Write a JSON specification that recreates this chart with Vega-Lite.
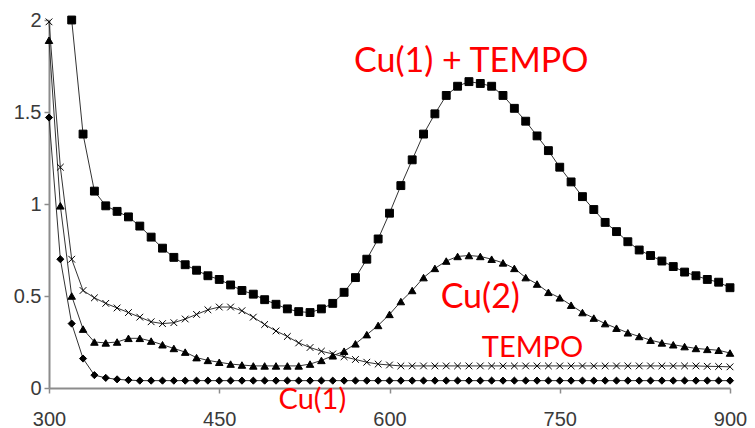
{
  "$schema": "https://vega.github.io/schema/vega-lite/v6.json",
  "autosize": {"type": "none"},
  "padding": {"left": 49, "top": 20, "right": 26, "bottom": 40},
  "width": 681,
  "height": 368,
  "background": "white",
  "config": {
    "view": {"stroke": null},
    "axis": {"grid": false, "domainColor": "#8c8c8c", "domainWidth": 2, "tickColor": "#8c8c8c", "tickWidth": 1.5, "tickSize": 5, "labelFont": "Liberation Sans", "labelFontSize": 20, "labelColor": "#3a3a3a", "title": null, "labelBound": false, "labelFlush": false, "labelOverlap": false}
  },
  "datasets": {
    "spectra": [
      {"nm": 300, "sq": null, "tri": 1.89, "dia": 1.47, "tem": 1.99},
      {"nm": 310, "sq": null, "tri": 0.99, "dia": 0.70, "tem": 1.20},
      {"nm": 320, "sq": 2.0, "tri": 0.50, "dia": 0.35, "tem": 0.70},
      {"nm": 330, "sq": 1.38, "tri": 0.32, "dia": 0.16, "tem": 0.53},
      {"nm": 340, "sq": 1.07, "tri": 0.25, "dia": 0.07, "tem": 0.49},
      {"nm": 350, "sq": 0.99, "tri": 0.245, "dia": 0.055, "tem": 0.46},
      {"nm": 360, "sq": 0.96, "tri": 0.25, "dia": 0.047, "tem": 0.435},
      {"nm": 370, "sq": 0.93, "tri": 0.27, "dia": 0.043, "tem": 0.41},
      {"nm": 380, "sq": 0.88, "tri": 0.27, "dia": 0.04, "tem": 0.385},
      {"nm": 390, "sq": 0.82, "tri": 0.255, "dia": 0.04, "tem": 0.36},
      {"nm": 400, "sq": 0.76, "tri": 0.235, "dia": 0.04, "tem": 0.35},
      {"nm": 410, "sq": 0.71, "tri": 0.215, "dia": 0.04, "tem": 0.355},
      {"nm": 420, "sq": 0.67, "tri": 0.195, "dia": 0.04, "tem": 0.375},
      {"nm": 430, "sq": 0.64, "tri": 0.165, "dia": 0.04, "tem": 0.40},
      {"nm": 440, "sq": 0.61, "tri": 0.15, "dia": 0.04, "tem": 0.425},
      {"nm": 450, "sq": 0.59, "tri": 0.14, "dia": 0.04, "tem": 0.44},
      {"nm": 460, "sq": 0.56, "tri": 0.13, "dia": 0.04, "tem": 0.44},
      {"nm": 470, "sq": 0.53, "tri": 0.125, "dia": 0.04, "tem": 0.42},
      {"nm": 480, "sq": 0.51, "tri": 0.12, "dia": 0.04, "tem": 0.385},
      {"nm": 490, "sq": 0.48, "tri": 0.12, "dia": 0.04, "tem": 0.345},
      {"nm": 500, "sq": 0.455, "tri": 0.12, "dia": 0.04, "tem": 0.31},
      {"nm": 510, "sq": 0.43, "tri": 0.12, "dia": 0.04, "tem": 0.28},
      {"nm": 520, "sq": 0.415, "tri": 0.12, "dia": 0.04, "tem": 0.245},
      {"nm": 530, "sq": 0.41, "tri": 0.13, "dia": 0.04, "tem": 0.22},
      {"nm": 540, "sq": 0.43, "tri": 0.15, "dia": 0.04, "tem": 0.20},
      {"nm": 550, "sq": 0.46, "tri": 0.175, "dia": 0.04, "tem": 0.185},
      {"nm": 560, "sq": 0.52, "tri": 0.20, "dia": 0.04, "tem": 0.17},
      {"nm": 570, "sq": 0.60, "tri": 0.24, "dia": 0.04, "tem": 0.155},
      {"nm": 580, "sq": 0.70, "tri": 0.29, "dia": 0.04, "tem": 0.14},
      {"nm": 590, "sq": 0.81, "tri": 0.34, "dia": 0.04, "tem": 0.13},
      {"nm": 600, "sq": 0.95, "tri": 0.40, "dia": 0.04, "tem": 0.125},
      {"nm": 610, "sq": 1.10, "tri": 0.47, "dia": 0.04, "tem": 0.12},
      {"nm": 620, "sq": 1.24, "tri": 0.53, "dia": 0.04, "tem": 0.12},
      {"nm": 630, "sq": 1.38, "tri": 0.60, "dia": 0.04, "tem": 0.12},
      {"nm": 640, "sq": 1.49, "tri": 0.65, "dia": 0.04, "tem": 0.12},
      {"nm": 650, "sq": 1.59, "tri": 0.69, "dia": 0.04, "tem": 0.12},
      {"nm": 660, "sq": 1.64, "tri": 0.715, "dia": 0.04, "tem": 0.12},
      {"nm": 670, "sq": 1.665, "tri": 0.72, "dia": 0.04, "tem": 0.12},
      {"nm": 680, "sq": 1.655, "tri": 0.715, "dia": 0.04, "tem": 0.12},
      {"nm": 690, "sq": 1.64, "tri": 0.70, "dia": 0.04, "tem": 0.12},
      {"nm": 700, "sq": 1.59, "tri": 0.68, "dia": 0.04, "tem": 0.12},
      {"nm": 710, "sq": 1.52, "tri": 0.65, "dia": 0.04, "tem": 0.12},
      {"nm": 720, "sq": 1.45, "tri": 0.60, "dia": 0.04, "tem": 0.12},
      {"nm": 730, "sq": 1.37, "tri": 0.565, "dia": 0.04, "tem": 0.12},
      {"nm": 740, "sq": 1.29, "tri": 0.52, "dia": 0.04, "tem": 0.12},
      {"nm": 750, "sq": 1.20, "tri": 0.49, "dia": 0.04, "tem": 0.12},
      {"nm": 760, "sq": 1.12, "tri": 0.45, "dia": 0.04, "tem": 0.12},
      {"nm": 770, "sq": 1.04, "tri": 0.41, "dia": 0.04, "tem": 0.12},
      {"nm": 780, "sq": 0.97, "tri": 0.38, "dia": 0.04, "tem": 0.12},
      {"nm": 790, "sq": 0.90, "tri": 0.35, "dia": 0.04, "tem": 0.12},
      {"nm": 800, "sq": 0.85, "tri": 0.325, "dia": 0.04, "tem": 0.12},
      {"nm": 810, "sq": 0.795, "tri": 0.30, "dia": 0.04, "tem": 0.12},
      {"nm": 820, "sq": 0.75, "tri": 0.28, "dia": 0.04, "tem": 0.12},
      {"nm": 830, "sq": 0.72, "tri": 0.26, "dia": 0.04, "tem": 0.12},
      {"nm": 840, "sq": 0.69, "tri": 0.245, "dia": 0.04, "tem": 0.12},
      {"nm": 850, "sq": 0.66, "tri": 0.235, "dia": 0.04, "tem": 0.12},
      {"nm": 860, "sq": 0.63, "tri": 0.225, "dia": 0.04, "tem": 0.12},
      {"nm": 870, "sq": 0.61, "tri": 0.215, "dia": 0.04, "tem": 0.12},
      {"nm": 880, "sq": 0.59, "tri": 0.21, "dia": 0.04, "tem": 0.118},
      {"nm": 890, "sq": 0.575, "tri": 0.205, "dia": 0.04, "tem": 0.117},
      {"nm": 900, "sq": 0.545, "tri": 0.19, "dia": 0.04, "tem": 0.115}
    ],
    "labels": [
      {"label": "Cu(1) + TEMPO", "nm": 672, "v": 1.77, "kind": "big"},
      {"label": "Cu(2)", "nm": 680, "v": 0.49, "kind": "big"},
      {"label": "TEMPO", "nm": 726, "v": 0.217, "kind": "small"},
      {"label": "Cu(1)", "nm": 532, "v": -0.065, "kind": "small"}
    ]
  },
  "layer": [
    {
      "data": {"name": "spectra"},
      "transform": [
        {"fold": ["sq", "tri", "dia", "tem"], "as": ["series", "val"]},
        {"filter": "isValid(datum.val)"}
      ],
      "layer": [
        {
          "mark": {"type": "line", "color": "#333333", "strokeWidth": 1},
          "encoding": {
            "x": {"field": "nm", "type": "quantitative", "scale": {"domain": [300, 900], "nice": false, "zero": false}, "axis": {"values": [300, 450, 600, 750, 900], "labelPadding": 16}},
            "y": {"field": "val", "type": "quantitative", "scale": {"domain": [0, 2], "nice": false}, "axis": {"values": [0, 0.5, 1, 1.5, 2], "format": "~g", "labelPadding": 3}},
            "detail": {"field": "series"}
          }
        },
        {
          "mark": {"type": "point", "filled": true, "opacity": 1, "color": "black", "stroke": "black", "strokeWidth": 1},
          "encoding": {
            "x": {"field": "nm", "type": "quantitative"},
            "y": {"field": "val", "type": "quantitative"},
            "shape": {"field": "series", "type": "nominal", "scale": {"domain": ["sq", "tri", "dia", "tem"], "range": ["square", "triangle-up", "diamond", "M-1,-1L1,1M-1,1L1,-1"]}, "legend": null},
            "size": {"field": "series", "type": "nominal", "scale": {"domain": ["sq", "tri", "dia", "tem"], "range": [62, 45, 40, 42]}, "legend": null}
          }
        }
      ]
    },
    {
      "data": {"name": "labels"},
      "transform": [{"filter": "datum.kind == 'big'"}],
      "mark": {"type": "text", "font": "Lato", "fontSize": 34, "color": "#ff0000", "align": "center", "baseline": "middle"},
      "encoding": {
        "x": {"field": "nm", "type": "quantitative"},
        "y": {"field": "v", "type": "quantitative"},
        "text": {"field": "label"}
      }
    },
    {
      "data": {"name": "labels"},
      "transform": [{"filter": "datum.kind == 'small'"}],
      "mark": {"type": "text", "font": "Lato", "fontSize": 29, "color": "#ff0000", "align": "center", "baseline": "middle"},
      "encoding": {
        "x": {"field": "nm", "type": "quantitative"},
        "y": {"field": "v", "type": "quantitative"},
        "text": {"field": "label"}
      }
    }
  ]
}
